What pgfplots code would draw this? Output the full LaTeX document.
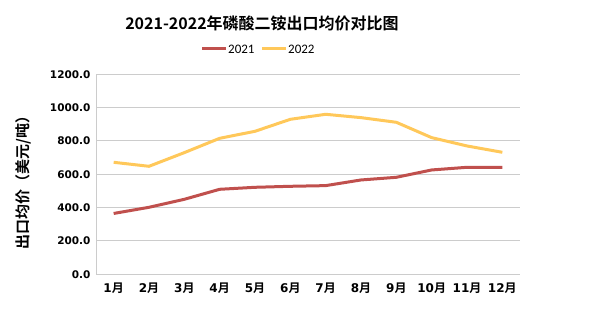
\documentclass[border=0pt]{standalone}
\usepackage{pgfplots}
\pgfplotsset{compat=1.18}
\usepackage{fontspec}
\setmainfont{DejaVu Sans}
\newfontfamily\cjk{Noto Sans CJK SC}[BoldFont={Noto Sans CJK SC Bold}]
\newfontfamily\carl{Carlito}
\newcommand\m[1]{#1{\cjk\bfseries 月}}
\definecolor{c21}{RGB}{192,80,77}
\definecolor{c22}{RGB}{255,200,90}
\definecolor{gridc}{RGB}{204,204,204}
\begin{document}
\begin{tikzpicture}[x=1pt,y=1pt]
\path[use as bounding box] (0,0) rectangle (605,321);
\begin{axis}[
  at={(96pt,46.7pt)}, anchor=south west,
  scale only axis, width=424pt, height=200pt,
  xmin=0.5, xmax=12.5, ymin=0, ymax=1200,
  xtick={1,...,12},
  xticklabels={\m{1},\m{2},\m{3},\m{4},\m{5},\m{6},\m{7},\m{8},\m{9},\m{10},\m{11},\m{12}},
  ytick={0,200,...,1200},
  yticklabel={\pgfmathprintnumber[fixed,fixed zerofill,precision=1,1000 sep={}]{\tick}},
  /pgf/number format/assume math mode=true,
  yticklabel style={font=\fontsize{10.5}{12}\selectfont\bfseries, xshift=-2pt},
  xticklabel style={font=\fontsize{12}{14}\selectfont\bfseries, yshift=-5pt},
  ymajorgrids, grid style={gridc, line width=1pt},
  axis x line*=bottom, axis y line*=left,
  x axis line style={gridc, line width=1pt, -},
  y axis line style={gridc, line width=1pt, -},
  major tick length=0pt,
  clip=false,
]
\addplot[c21, line width=3pt] coordinates {
(1,365) (2,402) (3,450) (4,510) (5,522) (6,528) (7,532) (8,566) (9,582) (10,626) (11,642) (12,642)};
\addplot[c22, line width=3pt] coordinates {
(1,672) (2,648) (3,730) (4,816) (5,858) (6,930) (7,960) (8,940) (9,912) (10,820) (11,770) (12,732)};
\end{axis}
\node[font=\fontsize{16}{19}\selectfont\cjk\bfseries] at (262,298) {2021-2022年磷酸二铵出口均价对比图};
\draw[c21, line width=3pt] (202,272) -- (226,272);
\node[anchor=west, font=\fontsize{13}{15}\selectfont\carl, inner sep=0pt] at (228,272) {2021};
\draw[c22, line width=3pt] (262,272) -- (286,272);
\node[anchor=west, font=\fontsize{13}{15}\selectfont\carl, inner sep=0pt] at (288,272) {2022};
\node[rotate=90, font=\fontsize{15}{18}\selectfont\cjk\bfseries] at (23,142) {出口均价（美元/吨）};
\end{tikzpicture}
\end{document}
